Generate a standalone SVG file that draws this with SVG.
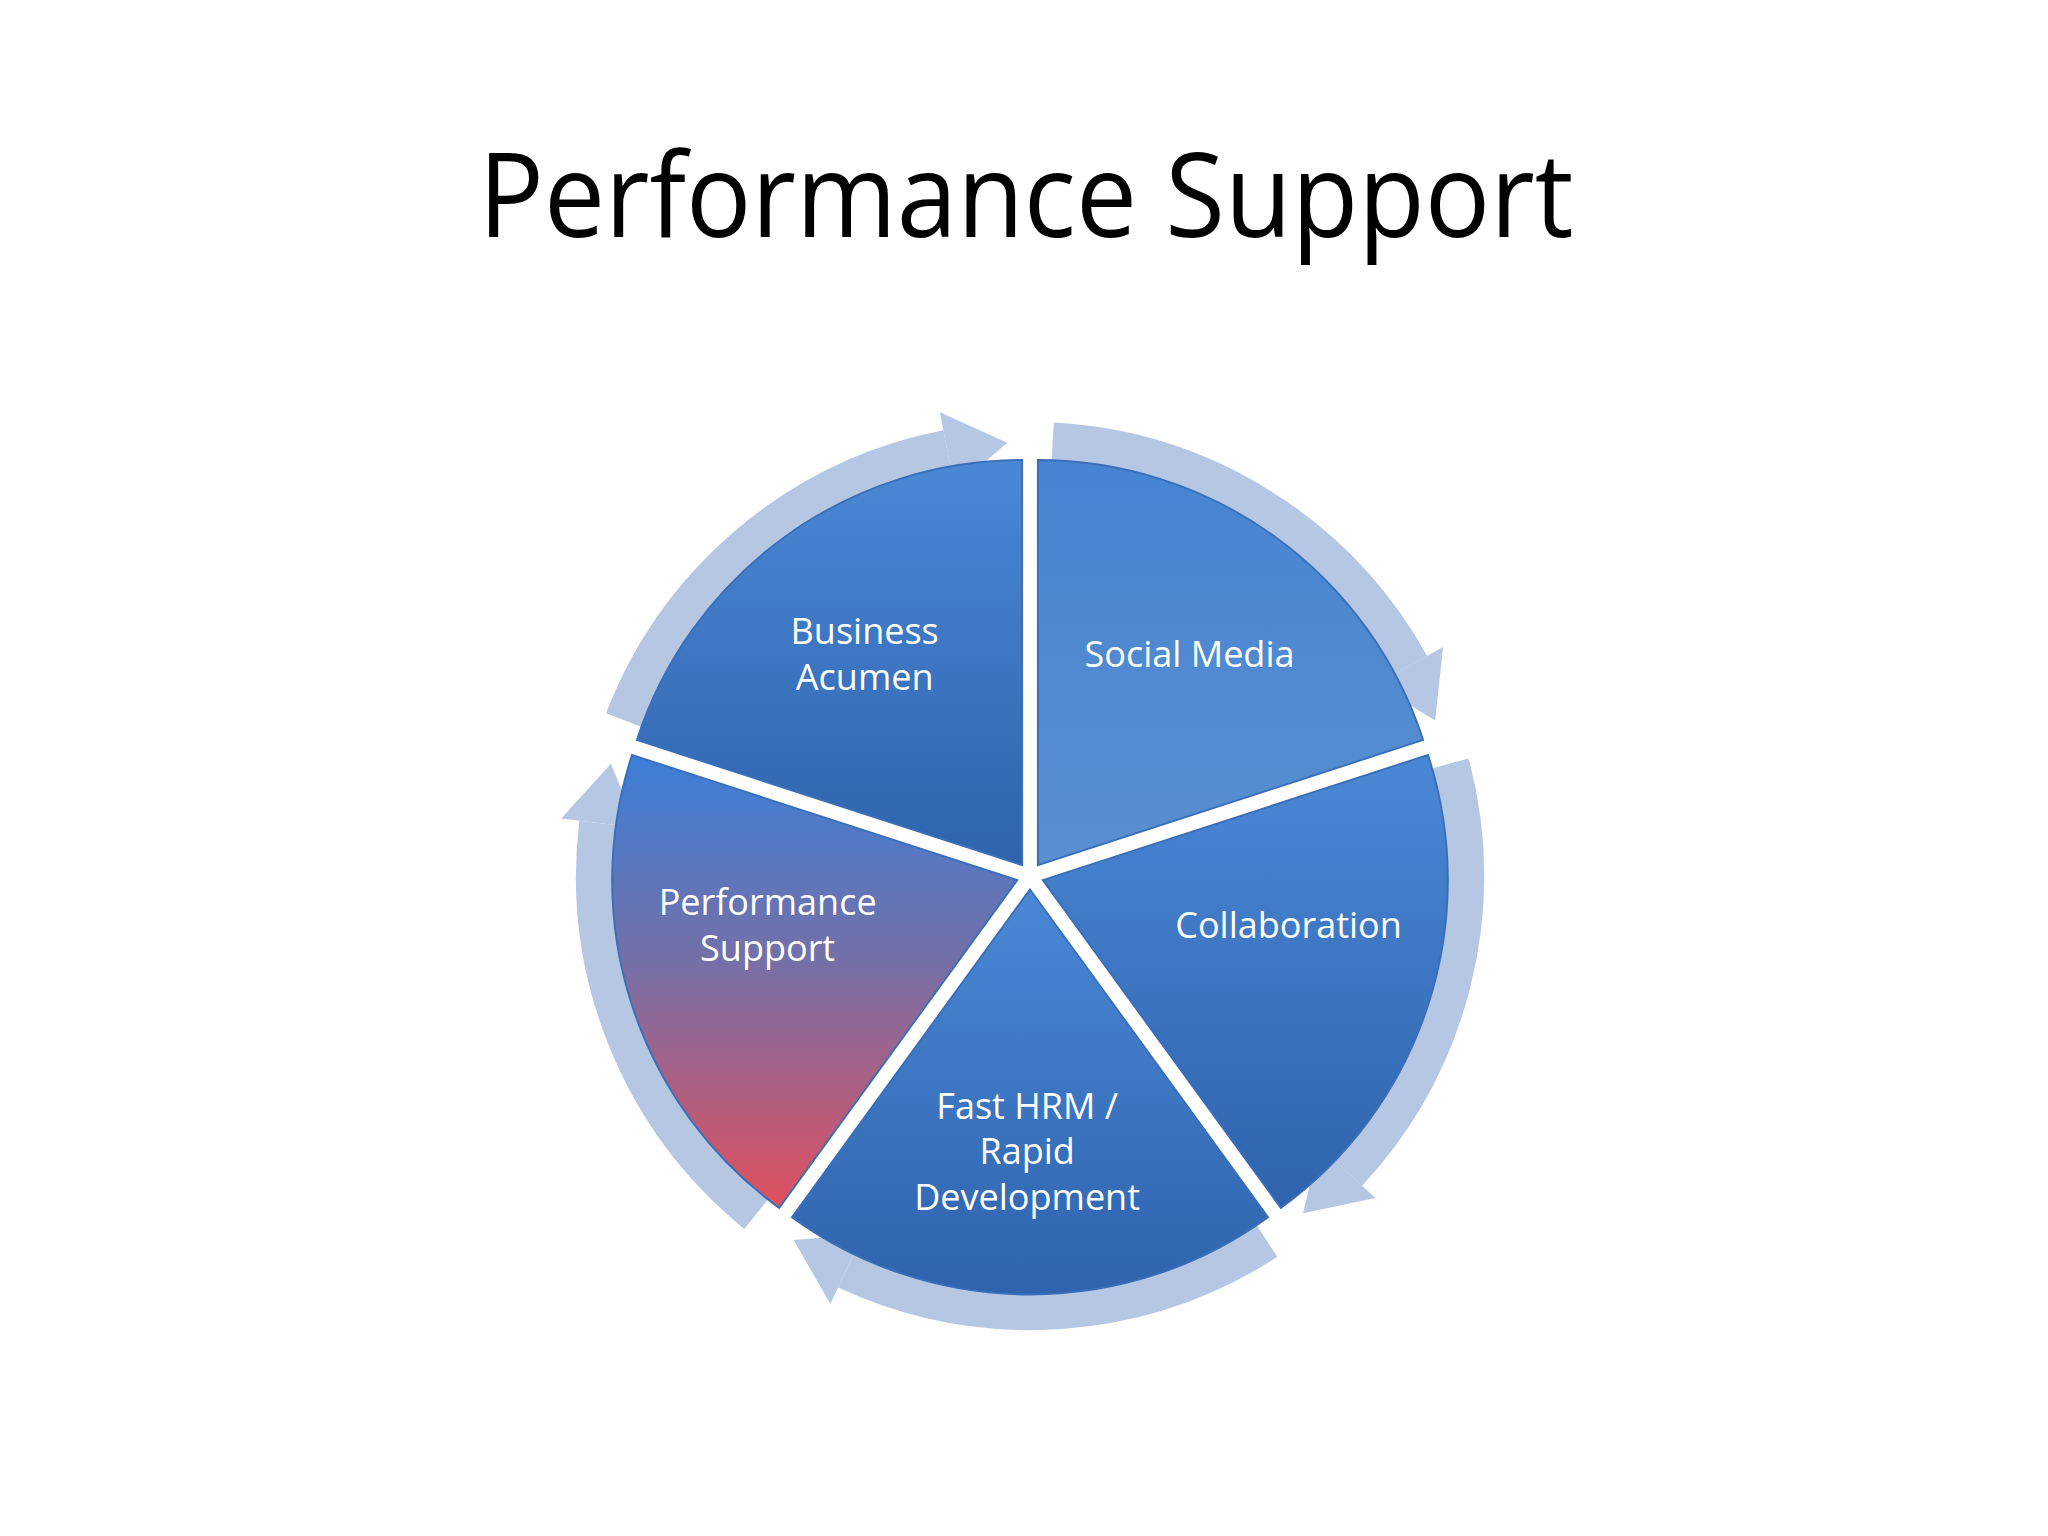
<svg xmlns="http://www.w3.org/2000/svg" width="2048" height="1536" viewBox="0 0 2048 1536">
<defs>
<linearGradient id="blue" x1="0" y1="0" x2="0" y2="1"><stop offset="0" stop-color="#4a88d6"/><stop offset="1" stop-color="#2f63ad"/></linearGradient>
<linearGradient id="blue2" x1="0" y1="0" x2="0" y2="1"><stop offset="0" stop-color="#4684d2"/><stop offset="1" stop-color="#5a8fd0"/></linearGradient>
<linearGradient id="red" x1="0" y1="0" x2="0" y2="1"><stop offset="0" stop-color="#3c7fd8"/><stop offset="0.45" stop-color="#7470a8"/><stop offset="1" stop-color="#e0505e"/></linearGradient>
</defs>
<style>
.ring{fill:none;stroke:#b6c7e3;stroke-width:42}
.head{fill:#b6c7e3}
.w{stroke:#3a6fb8;stroke-width:2}
.lbl{font-family:"Open Sans","Liberation Sans",sans-serif;font-size:37.5px;fill:#ffffff;text-anchor:middle}
</style>
<rect width="2048" height="1536" fill="#ffffff"/>
<text x="1026" y="237" font-family="Open Sans, Liberation Sans, sans-serif" font-size="118" text-anchor="middle" textLength="1095" lengthAdjust="spacingAndGlyphs" fill="#000">Performance Support</text>
<g transform="translate(1030,876) scale(0.96) translate(-1036,-878)">
<g id="connectors">
<path class="ring" d="M1059.6,426.6 A452 452 0 0 1 1431.3,658.9"/>
<polygon class="head" points="1396.3,678.3 1466.3,639.5 1458,716"/>
<path class="ring" d="M1472.6,761 A452 452 0 0 1 1366.6,1186.3"/>
<polygon class="head" points="1337.3,1159 1395.8,1213.5 1320.4,1229.3"/>
<path class="ring" d="M1282.2,1257.1 A452 452 0 0 1 845,1287.7"/>
<polygon class="head" points="861.9,1251.4 828.1,1323.9 789.8,1257.1"/>
<path class="ring" d="M751.6,1229.3 A452 452 0 0 1 587.4,822.9"/>
<polygon class="head" points="627.1,827.8 547.7,818 599.4,761"/>
<path class="ring" d="M614,716 A452 452 0 0 1 949.8,434.3"/>
<polygon class="head" points="957.4,473.6 942.1,395 1012.4,426.6"/>
</g>
<g id="social-media" transform="translate(1044.2,866.7)">
<path class="w" fill="url(#blue2)" d="M0,0 L0,-422 A422 422 0 0 1 401.3,-130.4 Z"/>
<text class="lbl" x="158" y="-206">Social Media</text>
</g>
<g id="collaboration" transform="translate(1049.3,882.3)">
<path class="w" fill="url(#blue)" d="M0,0 L401.3,-130.4 A422 422 0 0 1 248,341.4 Z"/>
<text class="lbl" x="256" y="60">Collaboration</text>
</g>
<g id="fast-hrm" transform="translate(1036,892)">
<path class="w" fill="url(#blue)" d="M0,0 L248,341.4 A422 422 0 0 1 -248,341.4 Z"/>
<text class="lbl" x="-3" y="239">Fast HRM /</text>
<text class="lbl" x="-3" y="286">Rapid</text>
<text class="lbl" x="-3" y="334">Development</text>
</g>
<g id="performance-support" transform="translate(1022.7,882.3)">
<path class="w" fill="url(#red)" d="M0,0 L-248,341.4 A422 422 0 0 1 -401.3,-130.4 Z"/>
<text class="lbl" x="-260" y="36">Performance</text>
<text class="lbl" x="-260" y="84">Support</text>
</g>
<g id="business-acumen" transform="translate(1027.8,866.7)">
<path class="w" fill="url(#blue)" d="M0,0 L-401.3,-130.4 A422 422 0 0 1 0,-422 Z"/>
<text class="lbl" x="-164" y="-230">Business</text>
<text class="lbl" x="-164" y="-182">Acumen</text>
</g>
</g>
</svg>
